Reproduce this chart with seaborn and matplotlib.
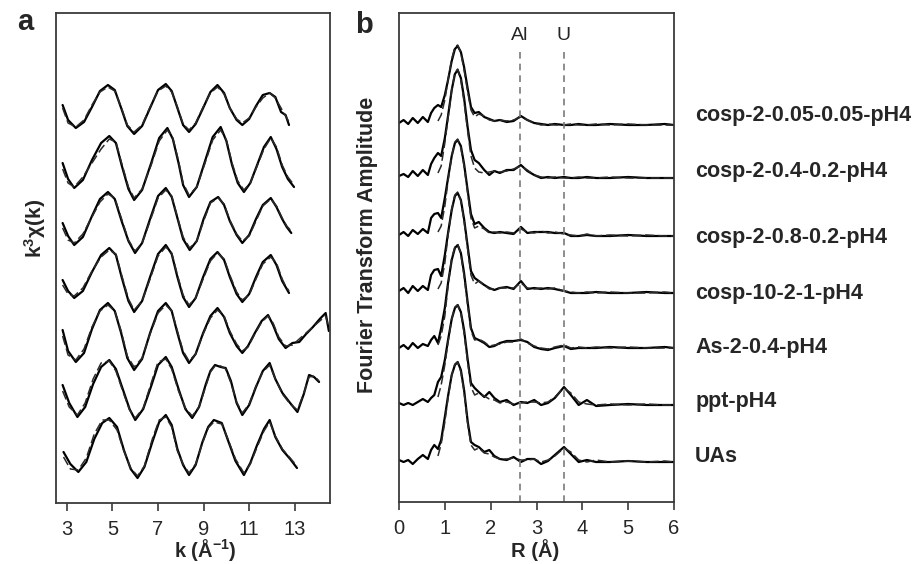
import numpy as np
import pandas as pd
import matplotlib
matplotlib.use("Agg")
import matplotlib.pyplot as plt
import seaborn as sns

# ---------------- Panel a: k^3 chi(k) (data + fit) ----------------
k1 = [2.81, 3.05, 3.39, 3.75, 4.1, 4.45, 4.8, 5.1, 5.38, 5.65, 5.95, 6.3, 6.65, 7.0, 7.34, 7.6, 7.85, 8.1, 8.36, 8.65, 8.98, 9.3, 9.61, 9.9, 10.15, 10.45, 10.7, 11.0, 11.3, 11.6, 11.9, 12.15, 12.4, 12.6, 12.75]
chi1 = [3, -12, -20, -14, 1, 17, 23, 18, 0, -18, -26, -18, 0, 18, 24, 17, 0, -17, -24, -16, 0, 16, 23, 15, 0, -12, -17, -11, 2, 13, 15, 11, -4, -7, -17]
fit1 = [0, -15, -19, -12, 3, 16, 21, 17, 1, -17, -24, -17, 1, 17, 22, 16, 1, -16, -22, -15, 1, 15, 21, 14, 0, -11, -15, -10, 1, 10, 15, 10, 0, -8, -14]

k2 = [2.81, 3.05, 3.32, 3.7, 4.1, 4.5, 4.86, 5.15, 5.4, 5.7, 5.95, 6.3, 6.7, 7.05, 7.41, 7.65, 7.9, 8.1, 8.36, 8.7, 9.05, 9.4, 9.75, 10.0, 10.25, 10.5, 10.77, 11.05, 11.35, 11.65, 11.95, 12.2, 12.45, 12.7, 12.97]
chi2 = [2, -14, -23, -15, 5, 22, 29, 22, 0, -24, -35, -25, 2, 27, 37, 26, 2, -20, -32, -22, 3, 28, 38, 24, 0, -18, -27, -18, 0, 18, 28, 16, -2, -14, -22]
fit2 = [-4, -18, -22, -12, 2, 16, 26, 23, 2, -22, -33, -24, 0, 24, 35, 27, 4, -18, -30, -22, 1, 25, 35, 25, 2, -16, -25, -18, -1, 16, 27, 18, 0, -12, -20]

k3 = [2.81, 3.05, 3.32, 3.7, 4.1, 4.45, 4.8, 5.1, 5.4, 5.7, 5.99, 6.3, 6.65, 7.0, 7.34, 7.6, 7.85, 8.1, 8.39, 8.7, 9.0, 9.3, 9.64, 9.9, 10.15, 10.45, 10.7, 11.0, 11.3, 11.6, 11.95, 12.2, 12.45, 12.65, 12.85]
chi3 = [-2, -15, -24, -16, 5, 22, 29, 22, 0, -20, -32, -22, 2, 25, 33, 24, 3, -18, -29, -20, 2, 19, 24, 16, 0, -14, -22, -14, 2, 16, 23, 14, 2, -6, -12]
fit3 = [-7, -19, -22, -13, 4, 19, 27, 23, 2, -19, -30, -22, 0, 23, 31, 25, 4, -16, -27, -20, 0, 18, 23, 17, 1, -13, -20, -15, 0, 15, 22, 15, 3, -5, -10]

k4 = [2.81, 3.05, 3.32, 3.7, 4.1, 4.5, 4.86, 5.15, 5.4, 5.7, 5.95, 6.3, 6.65, 7.0, 7.34, 7.6, 7.85, 8.1, 8.36, 8.65, 8.98, 9.3, 9.61, 9.9, 10.15, 10.45, 10.7, 11.0, 11.3, 11.6, 11.95, 12.2, 12.45, 12.6, 12.75]
chi4 = [-3, -14, -21, -14, 5, 22, 29, 22, 0, -24, -35, -24, 0, 23, 32, 23, 0, -20, -30, -21, 0, 18, 25, 17, 0, -17, -25, -17, 0, 15, 22, 12, -4, -10, -16]
fit4 = [-8, -17, -19, -11, 6, 20, 27, 23, 2, -22, -33, -24, -2, 21, 30, 24, 2, -18, -28, -21, -2, 16, 24, 18, 2, -15, -23, -18, -2, 13, 20, 14, -2, -9, -14]

k5 = [2.81, 3.05, 3.39, 3.75, 4.1, 4.45, 4.8, 5.1, 5.38, 5.65, 5.95, 6.3, 6.65, 7.0, 7.34, 7.6, 7.85, 8.1, 8.36, 8.65, 8.98, 9.3, 9.61, 9.9, 10.15, 10.45, 10.7, 10.95, 11.25, 11.55, 11.83, 12.05, 12.3, 12.6, 12.9, 13.2, 13.5, 13.8, 14.1, 14.36, 14.5]
chi5 = [3, -18, -29, -20, 4, 23, 30, 22, 0, -25, -37, -26, 0, 22, 30, 22, 0, -20, -30, -21, 0, 17, 25, 16, 0, -13, -20, -13, 0, 12, 18, 8, -6, -15, -10, -9, -1, 6, 14, 20, 2]
fit5 = [-3, -22, -27, -16, 6, 22, 28, 22, 2, -23, -34, -25, -1, 20, 28, 22, 2, -18, -28, -21, -1, 15, 23, 17, 2, -11, -18, -14, -1, 11, 17, 10, -4, -13, -12, -6, 0, 6, 12, 17, 5]

k6 = [2.81, 3.1, 3.46, 3.8, 4.15, 4.5, 4.86, 5.15, 5.45, 5.75, 6.0, 6.35, 6.7, 7.0, 7.34, 7.6, 7.9, 8.2, 8.5, 8.8, 9.1, 9.3, 9.5, 9.75, 9.97, 10.2, 10.45, 10.7, 11.0, 11.3, 11.6, 11.9, 12.15, 12.46, 12.8, 13.12, 13.4, 13.63, 13.85, 14.07]
chi6 = [4, -14, -28, -18, 5, 22, 29, 20, 0, -20, -31, -20, 3, 24, 32, 22, 0, -20, -29, -18, 5, 18, 24, 22, 21, 8, -14, -26, -16, 2, 18, 26, 10, -4, -14, -23, -5, 14, 12, 7]
fit6 = [-2, -18, -26, -14, 10, 26, 28, 18, -2, -21, -29, -19, 6, 27, 30, 20, -2, -19, -27, -18, 3, 17, 23, 23, 20, 6, -13, -24, -15, 3, 17, 24, 10, -5, -15, -21, -4, 12, 13, 8]

k7 = [2.85, 3.15, 3.5, 3.85, 4.2, 4.55, 4.86, 5.2, 5.5, 5.8, 6.1, 6.4, 6.75, 7.05, 7.34, 7.6, 7.85, 8.1, 8.36, 8.65, 8.95, 9.2, 9.45, 9.8, 10.05, 10.4, 10.77, 11.05, 11.35, 11.65, 11.9, 12.15, 12.46, 12.8, 13.1]
chi7 = [-5, -17, -25, -15, 8, 24, 29, 20, -3, -22, -31, -20, 5, 25, 32, 22, -2, -18, -28, -18, 5, 20, 27, 24, 8, -14, -28, -16, 2, 18, 27, 10, -3, -12, -21]
fit7 = [-10, -22, -23, -11, 13, 27, 27, 17, -4, -21, -29, -19, 8, 27, 30, 20, -4, -17, -26, -17, 4, 19, 25, 23, 9, -12, -26, -17, 0, 16, 25, 11, -2, -11, -19]

k_curves = [k1, k2, k3, k4, k5, k6, k7]
chi_curves = [chi1, chi2, chi3, chi4, chi5, chi6, chi7]
fit_curves = [fit1, fit2, fit3, fit4, fit5, fit6, fit7]
offsets_a = [395, 338, 282, 226, 170, 114, 56]

# ---------------- Panel b: Fourier transform amplitude ----------------
samples = ["cosp-2-0.05-0.05-pH4", "cosp-2-0.4-0.2-pH4", "cosp-2-0.8-0.2-pH4",
           "cosp-10-2-1-pH4", "As-2-0.4-pH4", "ppt-pH4", "UAs"]
r_grid = [0, 0.1, 0.2, 0.3, 0.41, 0.52, 0.63, 0.7, 0.77, 0.85, 0.92, 1.0, 1.07, 1.15, 1.22,
          1.28, 1.35, 1.42, 1.5, 1.57, 1.65, 1.74, 1.86, 1.97, 2.08, 2.2, 2.35, 2.5, 2.66,
          2.8, 2.95, 3.1, 3.25, 3.4, 3.6, 3.75, 3.92, 4.1, 4.3, 4.6, 5.0, 5.4, 5.8, 6.0]
ft1 = [2, 5, 1, 7, 2, 8, 3, 12, 17, 20, 18, 30, 45, 64, 76, 79, 73, 58, 36, 18, 12, 13, 8, 6, 4, 5, 3, 4, 9, 5, 2, 1, 0, 1, 0, 0, 1, 0, 0, 1, 0, 0, 1, 0]
ft2 = [2, 4, 1, 7, 2, 8, 3, 14, 20, 25, 22, 40, 62, 88, 104, 108, 100, 80, 50, 28, 18, 15, 8, 3, 7, 5, 8, 8, 13, 7, 3, 0, 1, 0, 1, 0, 0, 1, 0, 0, 1, 0, 0, 0]
ft3 = [1, 4, 0, 6, 2, 7, 3, 18, 22, 23, 18, 38, 58, 80, 93, 96, 90, 72, 45, 22, 12, 14, 8, 4, 3, 4, 3, 2, 9, 3, 4, 4, 4, 3, 3, 0, 0, 1, 0, 0, 1, 0, 0, 0]
ft4 = [2, 5, 0, 7, 2, 7, 3, 18, 23, 24, 17, 38, 60, 83, 97, 100, 93, 74, 46, 22, 15, 12, 8, 5, 3, 5, 6, 4, 12, 4, 5, 4, 5, 4, 2, 0, 0, 0, 1, 0, 0, 1, 0, 0]
ft5 = [0, 3, -1, 5, 0, 4, 2, 8, 12, 5, 20, 40, 65, 88, 100, 103, 95, 75, 45, 20, 10, 8, 5, 1, 2, 5, 7, 7, 8, 6, 1, -1, -2, 0, 2, -1, 0, 0, 0, 1, 0, 0, 1, 0]
ft6 = [2, 0, 2, 0, 3, 6, 3, 7, 10, 23, 28, 45, 65, 86, 97, 100, 93, 75, 45, 22, 17, 13, 8, 13, 7, 3, 5, 0, 3, 2, 5, 0, 2, 7, 18, 10, 0, 5, -1, 0, 1, 0, 0, 0]
ft7 = [2, 0, 2, -2, 3, 7, 3, 12, 17, 13, 22, 45, 66, 87, 97, 100, 92, 72, 40, 20, 17, 15, 10, 12, 6, 3, 2, 5, 0, 3, 3, -2, 1, 7, 15, 8, 0, 2, 0, 0, 1, 0, 0, 0]
# fits cover R >= 0.85 (r_grid[9:])
ftfit1 = [4, 10, 25, 45, 66, 78, 80, 72, 55, 33, 15, 8, 11, 9, 5, 4, 5, 4, 5, 8, 5, 2, 0, 1, 0, 0, 1, 0, 0, 1, 0, 1, 0, 0, 0]
ftfit2 = [5, 12, 35, 60, 88, 105, 109, 98, 76, 46, 22, 10, 6, 5, 6, 7, 6, 7, 9, 12, 8, 3, 1, 0, 1, 0, 0, 1, 0, 0, 1, 0, 0, 0, 0]
ftfit3 = [4, 10, 30, 55, 80, 94, 97, 88, 70, 42, 18, 8, 10, 7, 3, 4, 3, 4, 3, 7, 4, 3, 5, 3, 4, 2, 1, 0, 2, 0, 1, 0, 1, 0, 0]
ftfit4 = [4, 10, 30, 58, 84, 98, 101, 92, 72, 43, 18, 9, 12, 8, 4, 4, 5, 5, 5, 10, 5, 4, 5, 4, 5, 2, 1, 0, 1, 0, 1, 0, 0, 1, 0]
ftfit5 = [3, 12, 32, 62, 90, 101, 104, 94, 72, 42, 17, 8, 9, 6, 2, 3, 4, 6, 6, 9, 5, 2, 0, -1, 1, 3, 0, 1, 0, 1, 0, 1, 0, 0, 0]
ftfit6 = [8, 20, 40, 63, 86, 98, 100, 92, 72, 42, 18, 10, 12, 9, 6, 5, 2, 3, 1, 2, 3, 3, 2, 3, 8, 17, 12, 3, 1, 0, 1, 0, 1, 0, 0]
ftfit7 = [6, 18, 40, 64, 87, 98, 100, 90, 70, 38, 17, 12, 14, 9, 8, 5, 3, 3, 4, 2, 2, 3, 0, 2, 6, 14, 10, 2, 0, 2, 0, 1, 0, 1, 0]
ft_data = [ft1, ft2, ft3, ft4, ft5, ft6, ft7]
ft_fits = [ftfit1, ftfit2, ftfit3, ftfit4, ftfit5, ftfit6, ftfit7]
offsets_b = [377, 324, 266, 209, 154, 97, 40]
label_y = [386, 330, 264, 209, 154, 100, 45]
shell_r = [2.63, 3.6]
shell_names = ["Al", "U"]

# ---------------- tidy frames ----------------
rows_a = []
for i, (kk, cc, ff) in enumerate(zip(k_curves, chi_curves, fit_curves)):
    for kv, cv, fv in zip(kk, cc, ff):
        rows_a.append({"curve": i, "k": kv, "data": cv + offsets_a[i], "fit": fv + offsets_a[i]})
dfa = pd.DataFrame(rows_a)

rows_b, rows_bf = [], []
for i, (dd, ff) in enumerate(zip(ft_data, ft_fits)):
    for rv, dv in zip(r_grid, dd):
        rows_b.append({"curve": i, "R": rv, "amp": dv + offsets_b[i]})
    for rv, fv in zip(r_grid[9:], ff):
        rows_bf.append({"curve": i, "R": rv, "amp": fv + offsets_b[i]})
dfb = pd.DataFrame(rows_b)
dfbf = pd.DataFrame(rows_bf)

# ---------------- drawing ----------------
sns.set_style("white")
plt.rcParams["font.family"] = ["Liberation Sans", "DejaVu Sans"]
plt.rcParams["mathtext.fontset"] = "custom"
plt.rcParams["mathtext.rm"] = "Liberation Sans"
plt.rcParams["mathtext.bf"] = "Liberation Sans:bold"
plt.rcParams["mathtext.it"] = "Liberation Sans:italic"

fig = plt.figure(figsize=(9.18, 5.64), dpi=100)
axa = fig.add_axes([56 / 918, 61 / 564, 274 / 918, 490 / 564])
axb = fig.add_axes([399 / 918, 62 / 564, 275 / 918, 489 / 564])

sns.lineplot(data=dfa, x="k", y="data", units="curve", estimator=None, sort=False,
             color="black", lw=1.6, ax=axa, legend=False)
sns.lineplot(data=dfa, x="k", y="fit", units="curve", estimator=None, sort=False,
             color="#2a2a2a", lw=1.1, linestyle=(0, (6, 2.5)), ax=axa, legend=False)

sns.lineplot(data=dfb, x="R", y="amp", units="curve", estimator=None, sort=False,
             color="black", lw=1.6, ax=axb, legend=False)
sns.lineplot(data=dfbf, x="R", y="amp", units="curve", estimator=None, sort=False,
             color="#2a2a2a", lw=1.1, linestyle=(0, (6, 2.5)), ax=axb, legend=False)

for r, nm in zip(shell_r, shell_names):
    axb.vlines(r, 0, 452, colors="#7a7a7a", lw=1.2, linestyles=(0, (4, 3)))
    axb.text(r, 467, nm, ha="center", va="center", fontsize=14)

for name, yv in zip(samples, label_y):
    axb.text(6.46, yv, name, ha="left", va="center", fontsize=15.5,
             fontweight="bold", clip_on=False)

axa.set_xlim(2.52, 14.55)
axa.set_ylim(0, 490)
axb.set_xlim(0, 6)
axb.set_ylim(0, 489)

axa.set_xticks([3, 5, 7, 9, 11, 13])
axb.set_xticks([0, 1, 2, 3, 4, 5, 6])
for ax in (axa, axb):
    ax.set_yticks([])
    ax.set_xlabel("")
    ax.set_ylabel("")
    ax.tick_params(axis="x", bottom=True, direction="out", length=6, width=1.2,
                   color="#3a3a3a", labelsize=14.5, pad=6)
    for sp in ax.spines.values():
        sp.set_visible(True)
        sp.set_color("#3a3a3a")
        sp.set_linewidth(1.3)

fig.text(205 / 918, 1 - 550 / 564, r"k (Å$^{\mathbf{-1}}$)", ha="center", va="center",
         fontsize=14.5, fontweight="bold")
fig.text(535 / 918, 1 - 550 / 564, "R (Å)", ha="center", va="center",
         fontsize=14.5, fontweight="bold")
fig.text(35 / 918, 1 - 228 / 564, r"k$^{\mathbf{3}}$χ(k)", ha="center", va="center",
         rotation=90, fontsize=15, fontweight="bold")
fig.text(368 / 918, 1 - 245 / 564, "Fourier Transform Amplitude", ha="center", va="center",
         rotation=90, fontsize=15.5, fontweight="bold")
fig.text(25 / 918, 1 - 22 / 564, "a", ha="center", va="center", fontsize=21, fontweight="bold")
fig.text(364 / 918, 1 - 25 / 564, "b", ha="center", va="center", fontsize=21, fontweight="bold")

fig.savefig("out.png", dpi=100)
